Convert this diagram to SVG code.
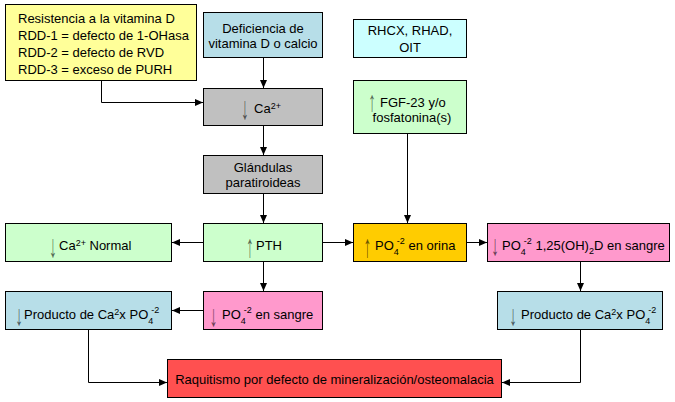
<svg xmlns="http://www.w3.org/2000/svg" width="675" height="402" viewBox="0 0 675 402">
<defs>
<marker id="ah" markerWidth="8" markerHeight="8" refX="8" refY="4" orient="auto" markerUnits="userSpaceOnUse">
<path d="M0,0.5 L8,4 L0,7.5 Z" fill="#000"/>
</marker>
<style>
rect{stroke:#000;stroke-width:1}
text{font-family:"Liberation Sans",Arial,sans-serif;font-size:13px;fill:#000}
.c{text-anchor:middle}
.ar{font-size:16px;fill:#000;fill-opacity:0.6;text-anchor:middle}
.sp{font-size:9px}
.conn path{fill:none;stroke:#000;stroke-width:1;marker-end:url(#ah)}
</style>
</defs>
<rect width="675" height="402" fill="#fff" style="stroke:none"/>
<g id="n-resistencia"><rect x="5.5" y="4.5" width="191" height="76" fill="#FFFF99"/>
<text x="18" y="22.5">Resistencia a la vitamina D</text>
<text x="18" y="39.5">RDD-1 = defecto de 1-OHasa</text>
<text x="18" y="56.5">RDD-2 = defecto de RVD</text>
<text x="18" y="73.5">RDD-3 = exceso de PURH</text></g>
<g id="n-deficiencia"><rect x="203.5" y="12.5" width="119" height="45" fill="#B7DEE8"/>
<text class="c" x="263" y="33">Deficiencia de</text>
<text class="c" x="263" y="47.5">vitamina D o calcio</text></g>
<g id="n-rhcx"><rect x="353.5" y="19.5" width="113" height="38" fill="#CCFFFF"/>
<text class="c" x="410" y="35">RHCX, RHAD,</text>
<text class="c" x="410" y="51.5">OIT</text></g>
<g id="n-ca"><rect x="203.5" y="88.5" width="119" height="37" fill="#C0C0C0"/>
<text class="ar" transform="translate(245,119) scale(1,2)">↓</text>
<text x="254" y="112.5"><tspan>Ca</tspan><tspan class="sp" dy="-4">2+</tspan></text></g>
<g id="n-fgf"><rect x="353.5" y="80.5" width="113" height="53" fill="#CCFFCC"/>
<text class="ar" transform="translate(372,111) scale(1,1.8)">↑</text>
<text x="380" y="107">FGF-23 y/o</text>
<text class="c" x="412" y="121.5">fosfatonina(s)</text></g>
<g id="n-glandulas"><rect x="203.5" y="155.5" width="119" height="38" fill="#C0C0C0"/>
<text class="c" x="263" y="171.5">Glándulas</text>
<text class="c" x="263" y="187">paratiroideas</text></g>
<g id="n-canormal"><rect x="5.5" y="223.5" width="166" height="38" fill="#CCFFCC"/>
<text class="ar" transform="translate(53,257) scale(1,2)">↓</text>
<text x="59" y="250"><tspan>Ca</tspan><tspan class="sp" dy="-4">2+</tspan><tspan dy="4"> Normal</tspan></text></g>
<g id="n-pth"><rect x="203.5" y="223.5" width="119" height="38" fill="#CCFFCC"/>
<text class="ar" transform="translate(250,257) scale(1,2)">↑</text>
<text x="256" y="250">PTH</text></g>
<g id="n-orina"><rect x="353.5" y="223.5" width="113" height="38" fill="#FFCC00"/>
<text class="ar" transform="translate(367.5,257) scale(1,2)">↑</text>
<text x="375" y="250"><tspan>PO</tspan><tspan class="sp" dy="5">4</tspan><tspan class="sp" dx="-2" dy="-11">-2</tspan><tspan dy="6"> en orina</tspan></text></g>
<g id="n-sangre125"><rect x="487.5" y="223.5" width="182" height="38" fill="#FF99CC"/>
<text class="ar" transform="translate(495,255) scale(1,1.8)">↓</text>
<text x="502" y="250"><tspan>PO</tspan><tspan class="sp" dy="5">4</tspan><tspan class="sp" dx="-2" dy="-11">-2</tspan><tspan dy="6"> 1,25(OH)</tspan><tspan class="sp" dy="4">2</tspan><tspan dy="-4">D en sangre</tspan></text></g>
<g id="n-productoL"><rect x="5.5" y="291.5" width="166" height="38" fill="#B7DEE8"/>
<text class="ar" transform="translate(19,325) scale(1,1.8)">↓</text>
<text x="24" y="319"><tspan>Producto de Ca</tspan><tspan class="sp" dy="-4">2</tspan><tspan dy="4">x PO</tspan><tspan class="sp" dy="5">4</tspan><tspan class="sp" dx="-2" dy="-11">-2</tspan></text></g>
<g id="n-po4sangre"><rect x="203.5" y="291.5" width="119" height="38" fill="#FF99CC"/>
<text class="ar" transform="translate(213.5,326) scale(1,1.9)">↓</text>
<text x="222" y="319"><tspan>PO</tspan><tspan class="sp" dy="5">4</tspan><tspan class="sp" dx="-2" dy="-11">-2</tspan><tspan dy="6"> en sangre</tspan></text></g>
<g id="n-productoR"><rect x="497.5" y="291.5" width="165" height="38" fill="#B7DEE8"/>
<text class="ar" transform="translate(513,325) scale(1,1.8)">↓</text>
<text x="521" y="319"><tspan>Producto de Ca</tspan><tspan class="sp" dy="-4">2</tspan><tspan dy="4">x PO</tspan><tspan class="sp" dy="5">4</tspan><tspan class="sp" dx="-2" dy="-11">-2</tspan></text></g>
<g id="n-raquitismo"><rect x="167.5" y="359.5" width="334" height="38" fill="#FF5050"/>
<text class="c" x="334.5" y="384">Raquitismo por defecto de mineralización/osteomalacia</text></g>
<g class="conn" id="connectors">
<path d="M101.5,80.5 V102.5 H203"/>
<path d="M263.5,57.5 V88"/>
<path d="M263.5,125.5 V155"/>
<path d="M263.5,193.5 V223"/>
<path d="M203.5,242.5 H172"/>
<path d="M322.5,242.5 H353"/>
<path d="M407.5,133.5 V223"/>
<path d="M466.5,242.5 H487"/>
<path d="M263.5,261.5 V291"/>
<path d="M203.5,310.5 H172"/>
<path d="M580.5,261.5 V291"/>
<path d="M88.5,329.5 V382.5 H167"/>
<path d="M580.5,329.5 V382.5 H502"/>
</g>
</svg>
